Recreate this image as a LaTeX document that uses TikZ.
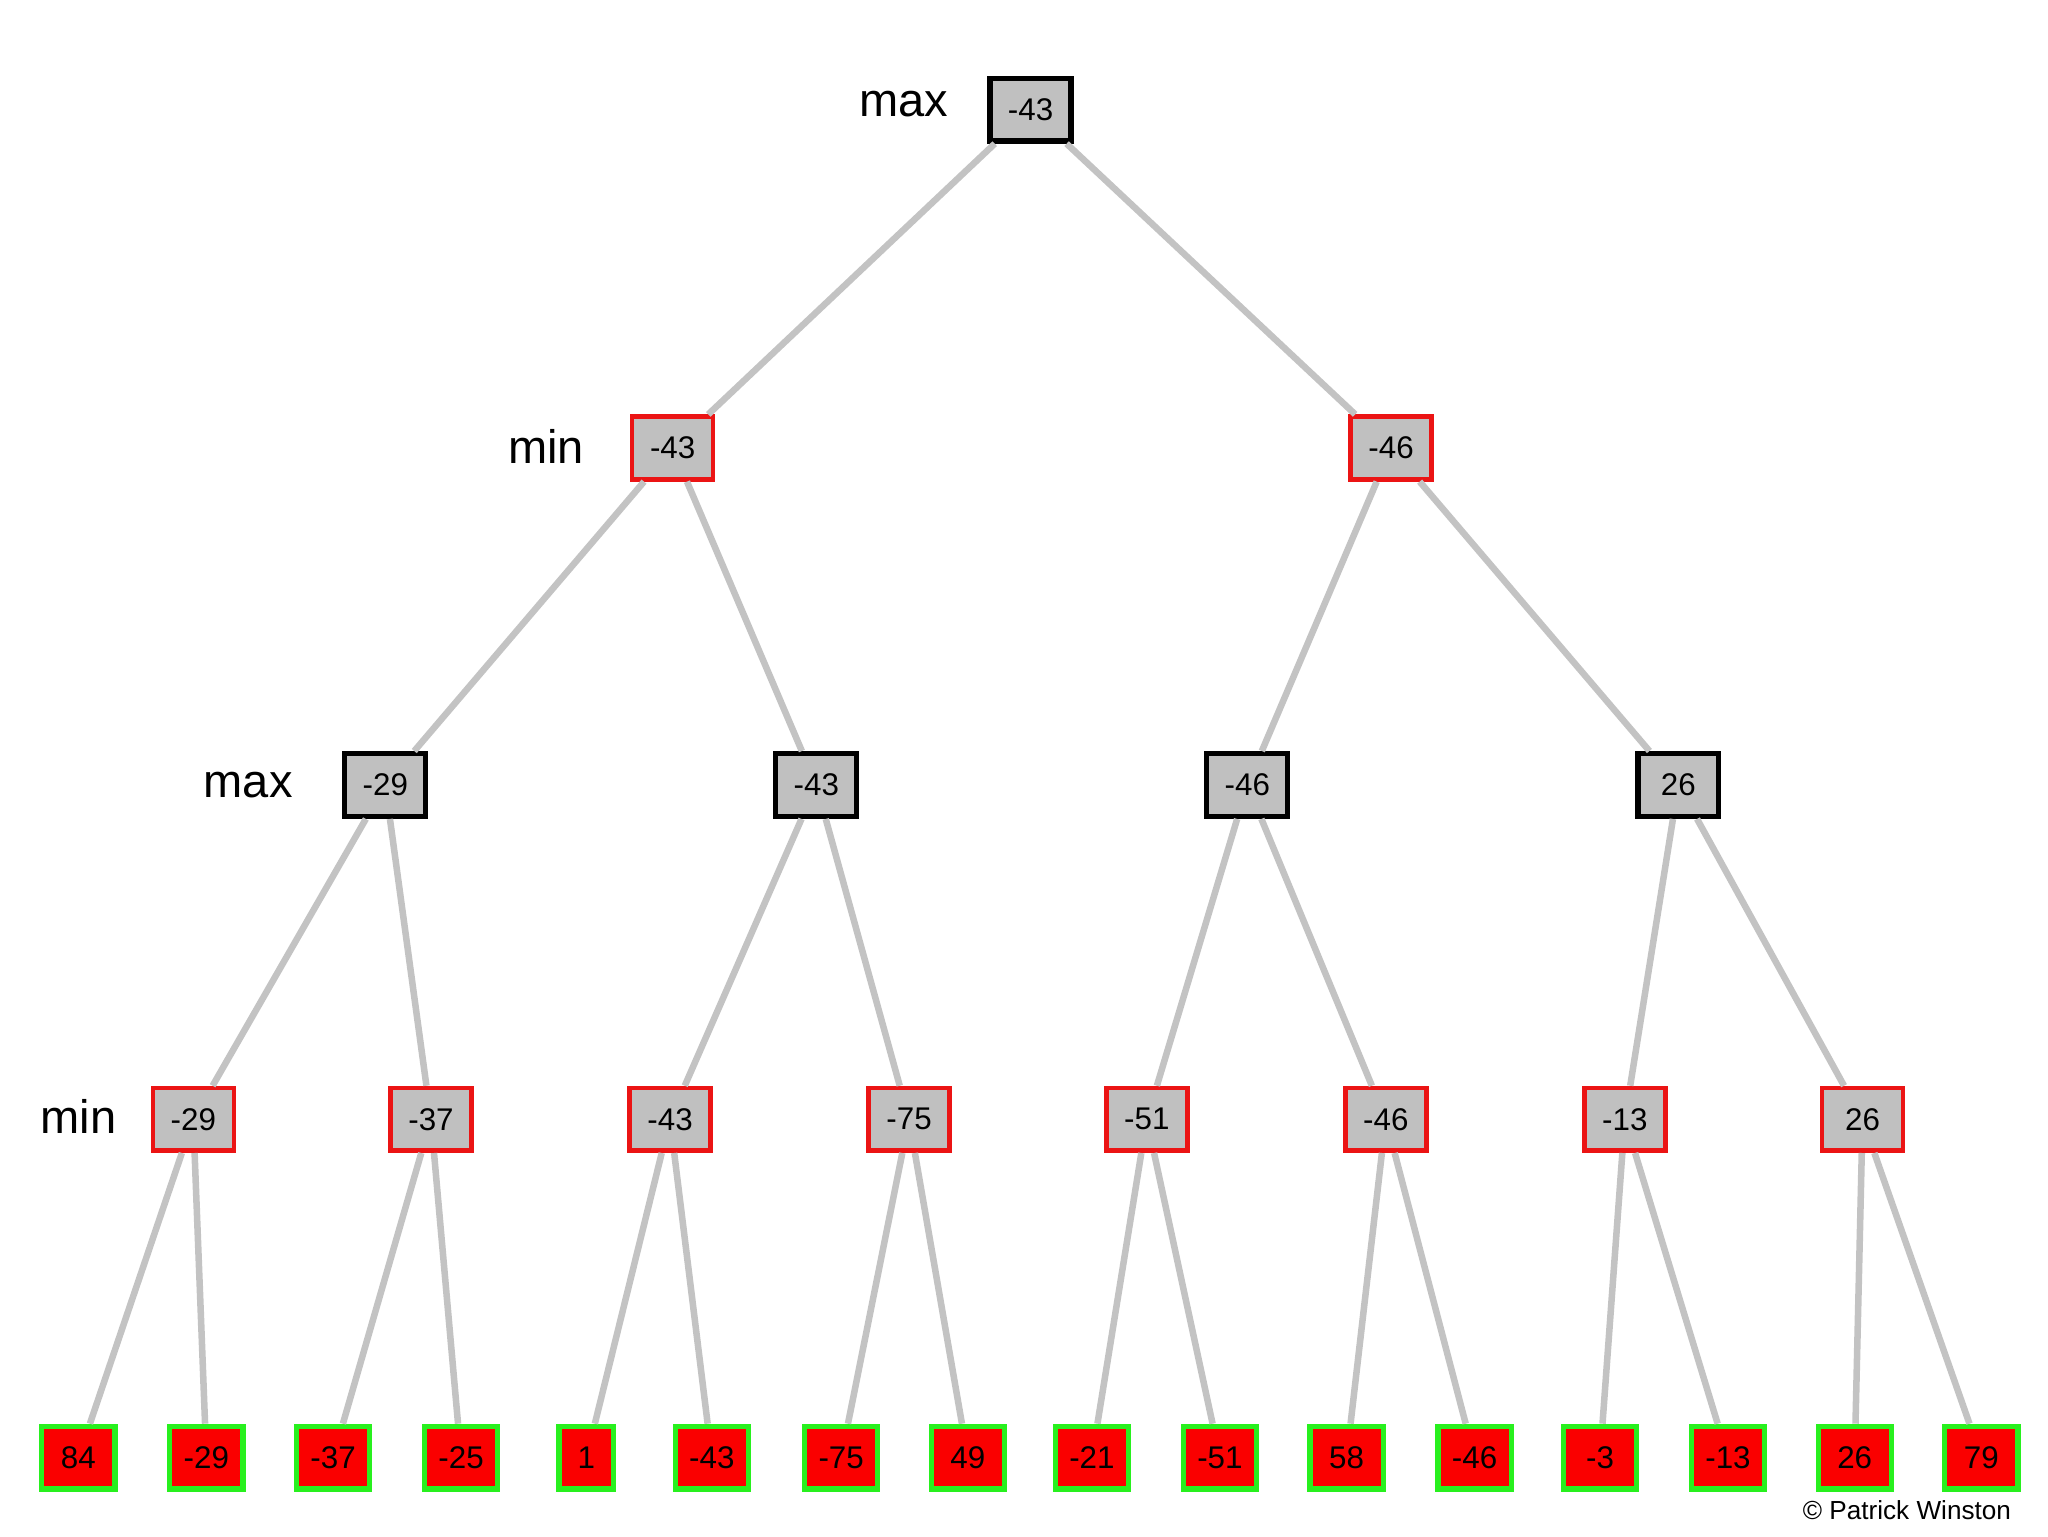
\documentclass[tikz,border=0pt]{standalone}
\usepackage{fontspec}
\setmainfont{Liberation Sans}
\begin{document}
\begin{tikzpicture}[x=1pt,y=-1pt,
 box/.style={draw,fill={rgb,255:red,192;green,192;blue,192},minimum width=62pt,minimum height=48pt,inner sep=0pt,font=\fontsize{24}{24}\selectfont},
 mx/.style={box,line width=4pt,draw=black},
 mn/.style={box,line width=3.5pt,draw={rgb,255:red,235;green,20;blue,20}},
 leaf/.style={box,line width=4pt,draw={rgb,255:red,40;green,240;blue,30},fill={rgb,255:red,250;green,0;blue,0},minimum width=56pt},
 lbl/.style={font=\fontsize{36}{36}\selectfont},
 edge/.style={draw={rgb,255:red,195;green,195;blue,195},line width=5pt}]
\useasboundingbox (0,0) rectangle (1568,1176);
\node[mx] (r) at (789,84) {-43};
\node[mn] (a) at (515,343) {-43};
\node[mn] (b) at (1065,343) {-46};
\node[mx] (c1) at (295,601) {-29};
\node[mx] (c2) at (625,601) {-43};
\node[mx] (c3) at (955,601) {-46};
\node[mx] (c4) at (1285,601) {26};
\foreach \n/\x/\t in {1/148/-29,2/330/-37,3/513/-43,4/696/-75,5/878/-51,6/1061/-46,7/1244/-13,8/1426/26}
  \node[mn] (d\n) at (\x,857) {\t};
\foreach \n/\x/\t in {1/60/84,2/158/-29,3/255/-37,4/353/-25,6/545/-43,7/644/-75,8/741/49,9/836/-21,10/934/-51,11/1031/58,12/1129/-46,13/1225/-3,14/1323/-13,15/1420/26,16/1517/79}
  \node[leaf] (e\n) at (\x,1116) {\t};
\node[leaf,minimum width=42pt] (e5) at (449,1116) {1};
\begin{scope}[on background layer/.try]
\end{scope}
\draw[edge] (r) -- (a); \draw[edge] (r) -- (b);
\draw[edge] (a) -- (c1); \draw[edge] (a) -- (c2);
\draw[edge] (b) -- (c3); \draw[edge] (b) -- (c4);
\draw[edge] (c1) -- (d1); \draw[edge] (c1) -- (d2);
\draw[edge] (c2) -- (d3); \draw[edge] (c2) -- (d4);
\draw[edge] (c3) -- (d5); \draw[edge] (c3) -- (d6);
\draw[edge] (c4) -- (d7); \draw[edge] (c4) -- (d8);
\foreach \i/\j/\k in {1/1/2,2/3/4,3/5/6,4/7/8,5/9/10,6/11/12,7/13/14,8/15/16}{
  \draw[edge] (d\i) -- (e\j); \draw[edge] (d\i) -- (e\k);}
\node[lbl] (l1) at (692,80) {max};
\node[lbl] (l2) at (418,342) {min};
\node[lbl] (l3) at (190,601) {max};
\node[lbl] (l4) at (60,855) {min};
\node[font=\fontsize{20}{20}\selectfont] (cp) at (1460,1156) {© Patrick Winston};
\end{tikzpicture}
\end{document}
